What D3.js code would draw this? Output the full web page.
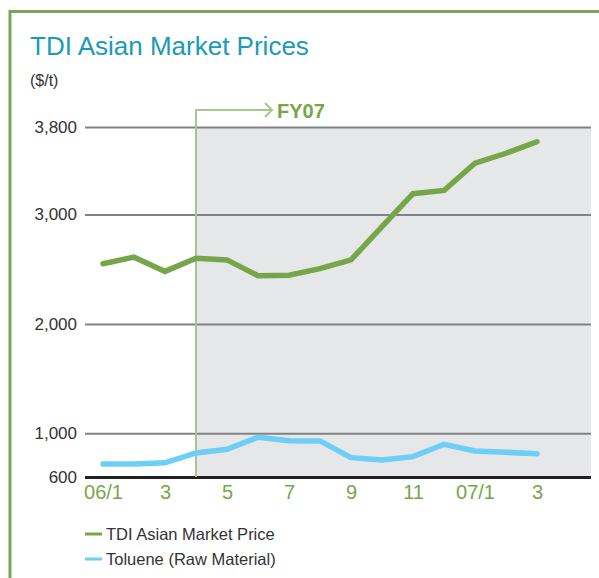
<!DOCTYPE html>
<html>
<head>
<meta charset="utf-8">
<script src="https://cdn.jsdelivr.net/npm/d3@7"></script>
<style>
  body { margin: 0; background: #fff; }
  svg { display: block; font-family: "Liberation Sans", Arial, Helvetica, sans-serif; }
</style>
</head>
<body>
<div id="plot"></div>
<script>
const width = 599;
const height = 578;

// ----- DATA ------------------------//
const months = ["06/1", "06/2", "06/3", "06/4", "06/5", "06/6", "06/7", "06/8",
    "06/9", "06/10", "06/11", "06/12", "07/1", "07/2", "07/3"];
const tdiPrice = [2550, 2610, 2480, 2600, 2585, 2440, 2445, 2505,
    2585, 2890, 3190, 3220, 3470, 3560, 3665];
const toluene = [720, 720, 730, 820, 853, 963, 932, 930,
    777, 755, 786, 899, 838, 826, 813];
const xTickIdx = [0, 2, 4, 6, 8, 10, 12, 14];
const xTickLabels = ["06/1", "3", "5", "7", "9", "11", "07/1", "3"];
const yTicks = [600, 1000, 2000, 3000, 3800];
const fyStart = 3; // 06/4 = start of FY07
const seriesNames = ["TDI Asian Market Price", "Toluene (Raw Material)"];

const green = "#77a64a";
const blue = "#6dcff6";

var svg = d3.select("#plot").append("svg")
    .attr("width", width)
    .attr("height", height);

// frame
svg.append("path")
    .attr("d", "M10," + (height + 5) + "V11.5H" + (width + 5))
    .attr("fill", "none")
    .attr("stroke", "#7aa653")
    .attr("stroke-width", 3);

svg.append("text")
    .attr("x", 30).attr("y", 55)
    .attr("fill", "#1a9bb7")
    .style("font-size", "26px")
    .text("TDI Asian Market Prices");

svg.append("text")
    .attr("x", 30).attr("y", 86)
    .attr("fill", "#333")
    .style("font-size", "16px")
    .text("($/t)");

// scales
const xScl = d3.scaleLinear().domain([0, months.length - 1]).range([103, 537]);
const yScl = d3.scaleLinear().domain([600, 3800]).range([477, 127]);
const xLeft = xScl(-0.58);
const xRight = xScl(15.74);

// FY07 shading
svg.append("rect")
    .attr("x", xScl(fyStart))
    .attr("y", yScl(3800))
    .attr("width", xRight - xScl(fyStart))
    .attr("height", yScl(600) - yScl(3800))
    .attr("fill", "#e6e7e8");

// grid lines
const yAxis = d3.axisLeft(yScl)
    .tickValues(yTicks)
    .tickSize(-(xRight - xLeft))
    .tickPadding(8)
    .tickFormat(d3.format(","));

const gy = svg.append("g")
    .attr("transform", "translate(" + xLeft + ",0)")
    .call(yAxis);
gy.select(".domain").remove();
gy.selectAll(".tick line")
    .attr("stroke", d => d === 600 ? "#231f20" : "#808285")
    .attr("stroke-width", d => d === 600 ? 3 : 2);
gy.selectAll(".tick text")
    .attr("fill", "#333")
    .style("font-size", "17px")
    .style("font-family", "Liberation Sans, Arial, sans-serif");

// FY07 marker
const fx = xScl(fyStart);
svg.append("path")
    .attr("d", "M" + fx + "," + yScl(600) + "V110H272")
    .attr("fill", "none")
    .attr("stroke", "#a9c690")
    .attr("stroke-width", 2);
svg.append("path")
    .attr("d", "M265,103L272,110L265,117")
    .attr("fill", "none")
    .attr("stroke", "#a9c690")
    .attr("stroke-width", 2);
svg.append("text")
    .attr("x", 277).attr("y", 118)
    .attr("fill", green)
    .style("font-size", "20px")
    .style("font-weight", "bold")
    .text("FY07");

// x axis labels
const xAxis = d3.axisBottom(xScl)
    .tickValues(xTickIdx)
    .tickSize(0)
    .tickPadding(8)
    .tickFormat((d, i) => xTickLabels[i]);
const gx = svg.append("g")
    .attr("transform", "translate(0," + yScl(600) + ")")
    .call(xAxis);
gx.select(".domain").remove();
gx.selectAll(".tick text")
    .attr("fill", green)
    .style("font-size", "20px")
    .style("font-family", "Liberation Sans, Arial, sans-serif");

// lines
const line = d3.line()
    .x((d, i) => xScl(i))
    .y(d => yScl(d));

svg.append("path")
    .attr("d", line(toluene))
    .attr("fill", "none")
    .attr("stroke", blue)
    .attr("stroke-width", 5.5)
    .attr("stroke-linecap", "round");

svg.append("path")
    .attr("d", line(tdiPrice))
    .attr("fill", "none")
    .attr("stroke", green)
    .attr("stroke-width", 5.5)
    .attr("stroke-linecap", "round");

// legend
const legend = svg.selectAll(".legend")
    .data(seriesNames)
    .enter()
    .append("g")
    .attr("transform", (d, i) => "translate(85," + (534 + i * 25) + ")");
legend.append("line")
    .attr("x1", 0).attr("x2", 17)
    .attr("stroke", (d, i) => i === 0 ? green : blue)
    .attr("stroke-width", 3);
legend.append("text")
    .attr("x", 21).attr("y", 6)
    .attr("fill", "#333")
    .style("font-size", "16.5px")
    .text(d => d);
</script>
</body>
</html>
